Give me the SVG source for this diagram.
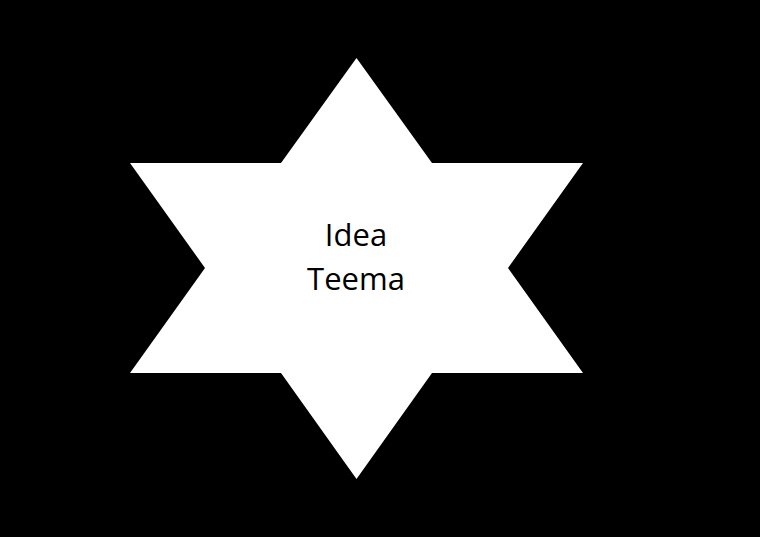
<svg xmlns="http://www.w3.org/2000/svg" width="760" height="537" viewBox="0 0 760 537">
<style>
.lbl{font-family:"Open Sans","Liberation Sans",sans-serif;font-size:31px;fill:#000;text-anchor:middle}
</style>
<rect width="760" height="537" fill="#000"/>
<g id="star">
<polygon points="356.5,58 432,163 583,163 508,268 583,373 432,373 356.5,479 281,373 130,373 205,268 130,163 281,163" fill="#fff"/>
<text class="lbl" x="356" y="246">Idea</text>
<text class="lbl" x="356" y="290">Teema</text>
</g>
</svg>
